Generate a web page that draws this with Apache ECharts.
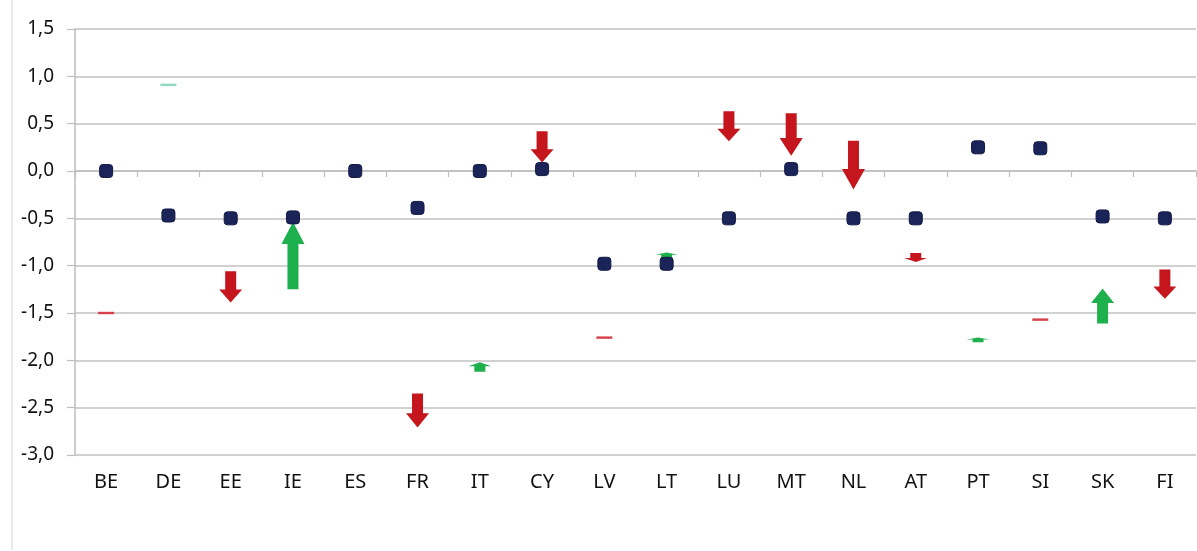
<!DOCTYPE html>
<html><head><meta charset="utf-8">
<script src="https://cdn.jsdelivr.net/npm/echarts@6/dist/echarts.min.js"></script>
<style>html,body{margin:0;padding:0;background:#fff}#c{width:1197px;height:551px}</style>
</head><body><div id="c"></div>
<script>
const categories = ['BE','DE','EE','IE','ES','FR','IT','CY','LV','LT','LU','MT','NL','AT','PT','SI','SK','FI'];
const markerValues = [0.0,-0.47,-0.5,-0.49,0.0,-0.39,0.0,0.02,-0.98,-0.98,-0.5,0.02,-0.5,-0.5,0.25,0.24,-0.48,-0.5];
const arrowFrom = [-1.495,0.905,-1.06,-1.25,null,-2.35,-2.12,0.42,-1.755,-0.92,0.63,0.61,0.32,-0.865,-1.81,-1.565,-1.61,-1.04];
const arrowTo   = [-1.505,0.915,-1.39,-0.54,null,-2.71,-2.02,0.09,-1.765,-0.86,0.315,0.16,-0.195,-0.96,-1.76,-1.575,-1.24,-1.35];
const yTickValues = [-3.0,-2.5,-2.0,-1.5,-1.0,-0.5,0.0,0.5,1.0,1.5];
const yTickLabels = ['-3,0','-2,5','-2,0','-1,5','-1,0','-0,5','0,0','0,5','1,0','1,5'];

const arrowData = [];
categories.forEach((c, i) => {
  if (arrowFrom[i] !== null) arrowData.push([i, arrowFrom[i], arrowTo[i]]);
});

function renderArrow(params, api) {
  const i = api.value(0), a = api.value(1), b = api.value(2);
  const p0 = api.coord([i, a]), p1 = api.coord([i, b]);
  const up = b > a;
  const x = p0[0];
  const len = Math.abs(p1[1] - p0[1]);
  if (len < 3) {
    return {type: 'rect', shape: {x: x - 8, y: (p0[1] + p1[1]) / 2 - 1.2, width: 16, height: 2.4},
      style: {fill: up ? '#8FD9C4' : '#D6404A'}};
  }
  const d = up ? -1 : 1;
  const head = Math.min(len * 0.42, 22);
  const sw = 5.5, hw = 11.5;
  const y0 = p0[1], y1 = p1[1], yh = y1 - d * head;
  const points = [[x - sw, y0], [x + sw, y0], [x + sw, yh], [x + hw, yh], [x, y1], [x - hw, yh], [x - sw, yh]];
  return {type: 'polygon', shape: {points}, style: {fill: up ? '#1FB04E' : '#C4161C'}};
}

const chart = echarts.init(document.getElementById('c'), null, {renderer: 'canvas'});
const font = 'Noto Sans, DejaVu Sans, sans-serif';
chart.setOption({
  backgroundColor: '#fff',
  animation: false,
  graphic: [{type: 'line', shape: {x1: 12, y1: 0, x2: 12, y2: 550}, style: {stroke: '#e2e2e2', lineWidth: 1.5}}],
  grid: {left: 75, right: 1, top: 29, bottom: 96, containLabel: false},
  xAxis: [
    {type: 'category', data: categories, position: 'bottom',
     axisLine: {show: false, onZero: false}, axisTick: {show: false},
     axisLabel: {fontSize: 20, color: '#111', margin: 17, fontFamily: font}},
    {type: 'category', data: categories, position: 'bottom',
     axisLine: {show: true, onZero: true, lineStyle: {color: '#bdbdbd', width: 1.5}},
     axisTick: {show: true, length: 6, lineStyle: {color: '#bdbdbd', width: 1.2}},
     axisLabel: {show: false}}
  ],
  yAxis: {
    type: 'value', min: -3, max: 1.5, interval: 0.5,
    axisLine: {show: true, lineStyle: {color: '#bdbdbd', width: 1.5}},
    axisTick: {show: true, length: 8, lineStyle: {color: '#bdbdbd', width: 1.2}},
    splitLine: {show: true, lineStyle: {color: '#c2c2c2', width: 1.5}},
    axisLabel: {fontSize: 19, color: '#111', margin: 21, fontFamily: font,
      formatter: v => { const k = yTickValues.findIndex(t => Math.abs(t - v) < 1e-6); return k >= 0 ? yTickLabels[k] : ''; }}
  },
  series: [
    {type: 'custom', xAxisIndex: 0, renderItem: renderArrow, data: arrowData,
     encode: {x: 0, y: [1, 2]}, z: 3},
    {type: 'scatter', xAxisIndex: 0, data: markerValues, symbol: 'roundRect', symbolSize: 13,
     itemStyle: {color: '#1B2458', opacity: 1, borderColor: '#121a45', borderWidth: 1}, z: 5}
  ]
});
</script></body></html>
